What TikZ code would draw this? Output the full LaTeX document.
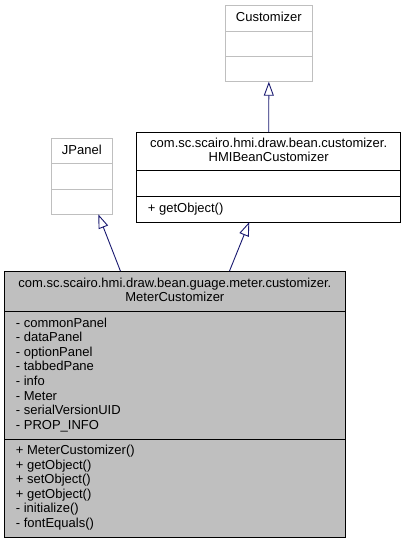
\documentclass[tikz,border=0pt]{standalone}
\usepackage{fontspec}
\setmainfont{Liberation Sans}
\usetikzlibrary{arrows.meta,calc}
\definecolor{navyline}{HTML}{191970}
\definecolor{boxgrey}{HTML}{BFBFBF}
\begin{document}
\begin{tikzpicture}[x=1pt,y=-1pt,
  font=\fontsize{13}{14.5}\selectfont,
  cls/.style={inner sep=0pt, outer sep=0pt, anchor=north west, line width=1pt},
  extcls/.style={cls, draw=boxgrey, fill=white},
  curcls/.style={cls, draw=black, fill=boxgrey},
  doccls/.style={cls, draw=black, fill=white},
  greysep/.style={draw=boxgrey, line width=1pt},
  blacksep/.style={draw=black, line width=1pt},
  ttl/.style={inner sep=0pt, anchor=base},
  itm/.style={inner sep=0pt, anchor=base west},
  inherit/.style={draw=navyline, line width=0.9pt, -{Triangle[open,length=14pt,width=10pt]}}]
\useasboundingbox (0,0) rectangle (406,544);

% Customizer
\node[extcls, minimum width=87.7pt, minimum height=76pt] (cust) at (225,5.7) {};
\draw[greysep] ($(cust.north west)+(0,26)$) -- ($(cust.north east)+(0,26)$);
\draw[greysep] ($(cust.north west)+(0,51)$) -- ($(cust.north east)+(0,51)$);
\node[ttl] (custname) at ($(cust.north)+(0,16)$) {Customizer};

% JPanel
\node[extcls, minimum width=61.7pt, minimum height=76pt] (jp) at (51,138.3) {};
\draw[greysep] ($(jp.north west)+(0,25.5)$) -- ($(jp.north east)+(0,25.5)$);
\draw[greysep] ($(jp.north west)+(0,51)$) -- ($(jp.north east)+(0,51)$);
\node[ttl] (jpname) at ($(jp.north)+(0,16)$) {JPanel};

% HMIBeanCustomizer
\node[doccls, minimum width=264pt, minimum height=90pt] (hmi) at (136.7,132) {};
\draw[blacksep] ($(hmi.north west)+(0,38)$) -- ($(hmi.north east)+(0,38)$);
\draw[blacksep] ($(hmi.north west)+(0,64)$) -- ($(hmi.north east)+(0,64)$);
\node[ttl] (hminame1) at ($(hmi.north)+(0,15.5)$) {com.sc.scairo.hmi.draw.bean.customizer.};
\node[ttl] (hminame2) at ($(hmi.north)+(0,29.8)$) {HMIBeanCustomizer};
\node[itm] (hmim1) at ($(hmi.north west)+(11,80.5)$) {+ getObject()};

% MeterCustomizer
\node[curcls, minimum width=340.3pt, minimum height=266.7pt] (mc) at (4.7,271) {};
\draw[blacksep] ($(mc.north west)+(0,40.7)$) -- ($(mc.north east)+(0,40.7)$);
\draw[blacksep] ($(mc.north west)+(0,168)$) -- ($(mc.north east)+(0,168)$);
\node[ttl] (mcname1) at ($(mc.north)+(0,16.5)$) {com.sc.scairo.hmi.draw.bean.guage.meter.customizer.};
\node[ttl] (mcname2) at ($(mc.north)+(0,30.5)$) {MeterCustomizer};
\foreach \t [count=\i from 0] in {- commonPanel,- dataPanel,- optionPanel,- tabbedPane,- info,- Meter,- serialVersionUID,- PROP\_INFO}
  \node[itm] (mca\i) at ($(mc.north west)+(11,56+14.6*\i)$) {\t};
\foreach \t [count=\i from 0] in {+ MeterCustomizer(),+ getObject(),+ setObject(),+ getObject(),- initialize(),- fontEquals()}
  \node[itm] (mcm\i) at ($(mc.north west)+(11,183.5+14.6*\i)$) {\t};

% inheritance connectors
\coordinate (a1) at ($(mc.north west)+(115.7,0)$);
\coordinate (t1) at ($(jp.south west)+(47.3,0)$);
\coordinate (a2) at ($(mc.north west)+(224.8,0)$);
\coordinate (t2) at ($(hmi.south west)+(112.6,0)$);
\draw[inherit] (a1) -- (t1);
\draw[inherit] (a2) -- (t2);
\draw[inherit] (hmi.north) -- (cust.south);
\end{tikzpicture}
\end{document}
